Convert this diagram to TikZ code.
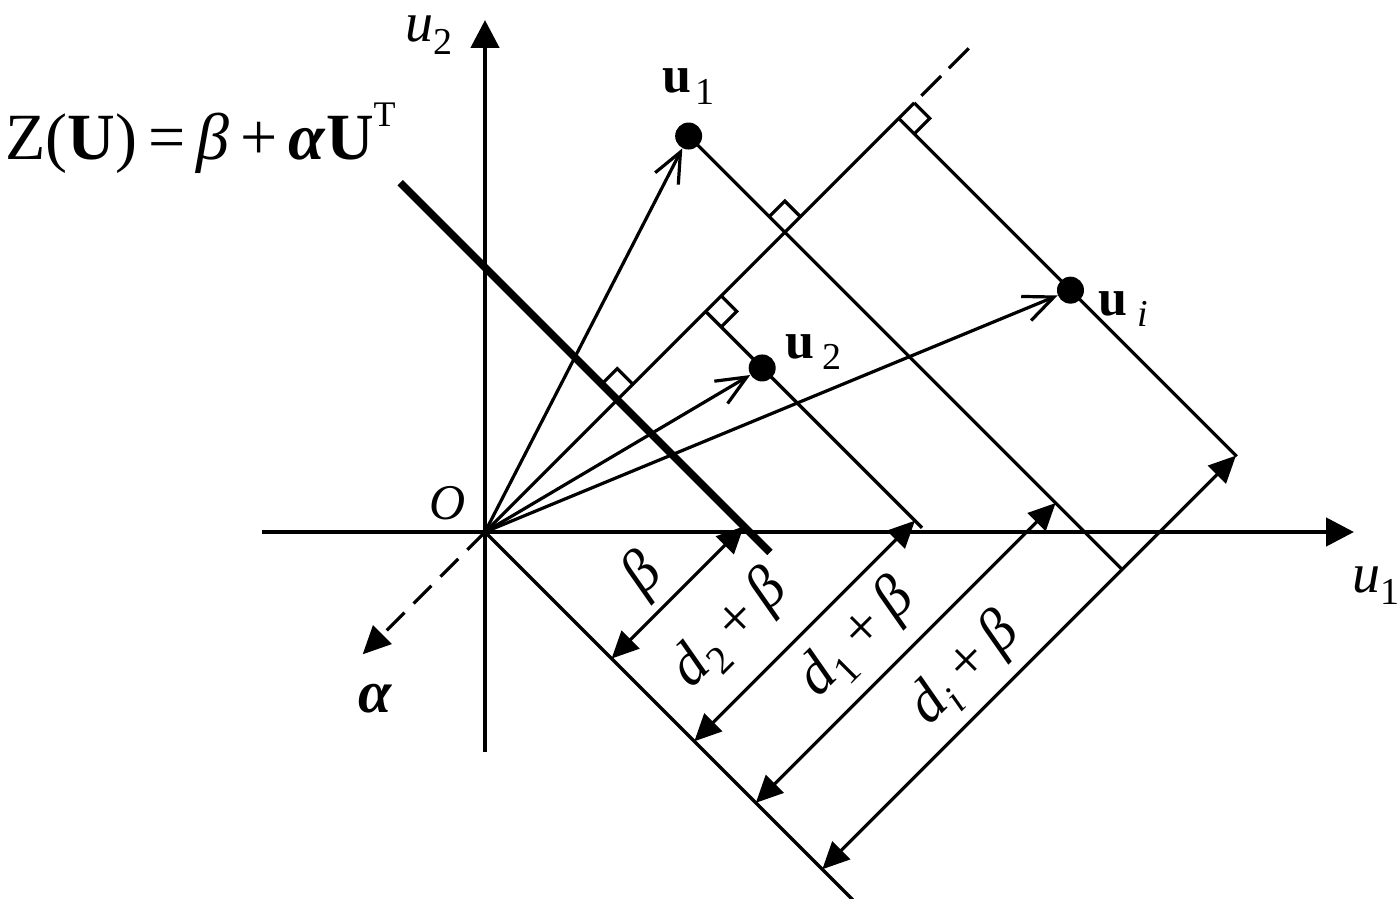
\documentclass[tikz,border=0pt]{standalone}
\usepackage{fontspec}
\setmainfont{Liberation Serif}
\usetikzlibrary{arrows.meta}
\newcommand{\lsb}[2][19]{\raisebox{-0.22em}{\fontsize{#1}{#1}\selectfont\normalfont #2}}
\begin{document}
\begin{tikzpicture}[x=0.5pt,y=-0.5pt, line join=miter,
  axis/.style={line width=2.3pt,-{Triangle[length=14pt,width=14pt]}},
  thinl/.style={line width=1.6pt},
  thickz/.style={line width=3.8pt},
  vec/.style={line width=1.6pt,-{Straight Barb[length=15pt,width=13pt]}},
  dimar/.style={line width=1.6pt,{Triangle[length=13.5pt,width=12.5pt]}-{Triangle[length=13.5pt,width=12.5pt]}},
  dot/.style={circle,fill=black,inner sep=0pt,minimum size=13.5pt},
  lab/.style={inner sep=0pt,font=\fontsize{28}{28}\selectfont},
  rlab/.style={inner sep=0pt,rotate=45,font=\fontsize{30}{30}\selectfont},
  blab/.style={inner sep=0pt,font=\fontsize{26}{26}\selectfont\bfseries},
  dashA/.style={dash pattern=on 12.5pt off 6.5pt},
  dashB/.style={dash pattern=on 14pt off 5.5pt},
]
\useasboundingbox (0,0) rectangle (1400,898);
\coordinate (O) at (485,532);
\coordinate (AxL) at (262,532);
\coordinate (AxR) at (1354,532);
\coordinate (AyB) at (485,752);
\coordinate (AyT) at (485,20);
\draw[axis] (AxL) -- (AxR);
\draw[axis] (AyB) -- (AyT);

\begin{scope}[shift={(242.5pt,-266pt)}, x={(0.353553pt,0.353553pt)}, y={(0.353553pt,-0.353553pt)}]
  % feet on the 45 degree line
  \coordinate (F0) at (187,0);
  \coordinate (F2) at (312,0);
  \coordinate (F1) at (424,0);
  \coordinate (Fi) at (585,0);
  \coordinate (Dsol) at (607,0);
  \coordinate (Da) at (617,0);
  \coordinate (Db) at (690,0);
  \coordinate (Al) at (-173,0);
  \coordinate (Base) at (0,520);
  % thick line Z(U)
  \coordinate (Z1) at (187,-307);
  \coordinate (Z2) at (187,216);
  % points
  \node[dot] (U1) at (424,-136) {};
  \node[dot] (U2) at (312,80) {};
  \node[dot] (Ui) at (585,243) {};
  % ends of perpendiculars
  \coordinate (E2) at (312,306);
  \coordinate (E1) at (424,477);
  \coordinate (Ei) at (585,478);
  % dimension arrows
  \coordinate (B0) at (0,179);   \coordinate (T0) at (187,179);
  \coordinate (B2) at (0,296);   \coordinate (T2) at (312,296);
  \coordinate (B1) at (0,383);   \coordinate (T1) at (424,383);
  \coordinate (Bi) at (0,477);   \coordinate (Ti) at (585,477);

  \draw[thinl] (O) -- (Dsol);
  \draw[thinl,dashB] (Da) -- (Db);
  \draw[thinl,dashA,-{Triangle[length=14pt,width=13pt]}] (O) -- (Al);
  \draw[thinl] (O) -- (Base);
  \draw[thickz] (Z1) -- (Z2);

  \draw[thinl] (U1.center) -- (E1);
  \draw[thinl] (F2) -- (E2);
  \draw[thinl] (Fi) -- (Ei);

  % right-angle marks
  \draw[thinl] (187,-22) -- (209,-22) -- (209,0);
  \draw[thinl] (312,22) -- (334,22) -- (334,0);
  \draw[thinl] (424,-22) -- (446,-22) -- (446,0);
  \draw[thinl] (585,22) -- (607,22) -- (607,0);

  \draw[vec] (O) -- (U1);
  \draw[vec] (O) -- (U2);
  \draw[vec] (O) -- (Ui);

  \draw[dimar] (B0) -- (T0);
  \draw[dimar] (B2) -- (T2);
  \draw[dimar] (B1) -- (T1);
  \draw[dimar] (Bi) -- (Ti);

  \node[rlab] (Lb) at (81,143) {\textit{β}};
  \node[rlab] (L2) at (104,243) {\textit{d}\kern0.02em\lsb[20]{2}\kern0.22em+\kern0.18em\textit{β}};
  \node[rlab] (L1) at (187,339) {\textit{d}\kern0.02em\lsb[20]{1}\kern0.22em+\kern0.18em\textit{β}};
  \node[rlab] (Li) at (242,437) {\textit{d}\kern0.02em\lsb[20]{\textit{i}}\kern0.22em+\kern0.18em\textit{β}};
\end{scope}

\node[lab,anchor=base west] (Zlab) at (5,160) {\fontsize{33}{33}\selectfont Z(\textbf{U})\,=\,\textit{β}\,+\,\textbf{\textit{α}}\textbf{U}\raisebox{0.5em}{\fontsize{18}{18}\selectfont T}};
\node[lab,anchor=base west] (u2lab) at (405,42) {\textit{u}\lsb{2}};
\node[lab,anchor=base west] (u1lab) at (1352,592) {\textit{u}\lsb{1}};
\node[lab,font=\fontsize{25}{25}\selectfont] (Olab) at (448,503) {\textit{O}};
\node[lab,font=\fontsize{30}{30}\selectfont] (alab) at (375,699) {\textbf{\textit{α}}};
\node[blab,anchor=base west] (u1b) at (662,93) {u\kern0.08em\lsb{1}};
\node[blab,anchor=base west] (u2b) at (785,358) {u\kern0.15em\lsb{2}};
\node[blab,anchor=base west] (uib) at (1098,315) {u\kern0.2em\lsb{\textit{i}}};
\end{tikzpicture}
\end{document}
